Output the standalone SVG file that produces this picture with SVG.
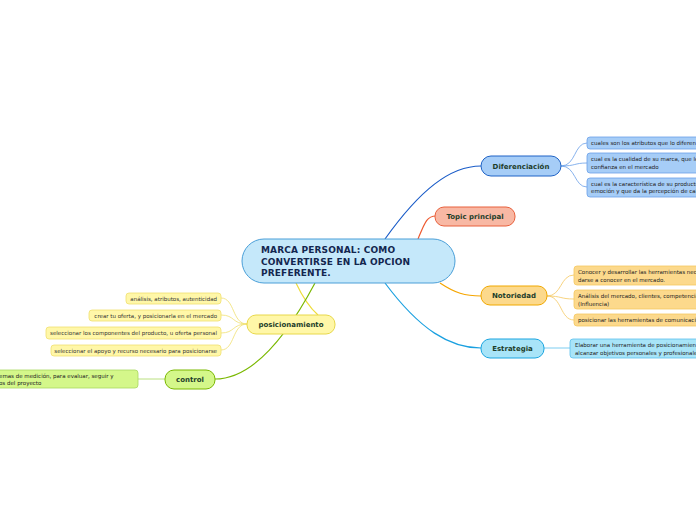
<svg xmlns="http://www.w3.org/2000/svg" width="696" height="520" viewBox="0 0 696 520">
<style>
text{font-family:"DejaVu Sans",Verdana,sans-serif;}
.main{font-size:9px;font-weight:bold;fill:#13264f;letter-spacing:0.15px;}
.topic{font-size:7px;font-weight:bold;fill:#1d3d2a;text-anchor:middle;}
.sub{font-size:5.5px;fill:#222;}
.subr{font-size:5.5px;fill:#333;text-anchor:end;}
.c{fill:none;stroke-width:1.2;}
.cs{fill:none;stroke-width:0.8;}
</style>
<rect width="696" height="520" fill="#ffffff"/>
<g id="connectors">
<path class="c" stroke="#1a5cc8" d="M385,239 C420,190 450,166 481,166"/>
<path class="c" stroke="#ee5a30" d="M418,239 C425,222 427,216 436,216"/>
<path class="c" stroke="#f5a500" d="M440,283 C455,293 465,296 481,296"/>
<path class="c" stroke="#1aa0e0" d="M385,283 C420,330 450,348 481,348"/>
<path class="c" stroke="#eedc3a" d="M296,283 C303,298 310,308 318,315"/>
<path class="c" stroke="#7ab800" d="M315,283 C290,330 255,379 215,379"/>
<path class="cs" stroke="#6aa0e8" d="M561,166 C576,166 574,143 587,143 M561,166 C576,166 574,163 587,163 M561,166 C576,166 574,187 587,187"/>
<path class="cs" stroke="#f5c860" d="M547,296 C562,296 560,275 574,275 M547,296 C562,296 560,299 574,299 M547,296 C562,296 560,320 574,320"/>
<path class="cs" stroke="#5cc0ee" d="M544,348 L570,348"/>
<path class="cs" stroke="#f0e070" d="M247,324 C232,324 235,298 221,298 M247,324 C232,324 235,315 221,315 M247,324 C232,324 235,333 221,333 M247,324 C232,324 235,350 221,350"/>
<path class="cs" stroke="#a8d860" d="M165,379 L138,379"/>
</g>
<g id="central">
<rect x="242" y="239" width="213" height="44" rx="22" fill="#c5e8fa" stroke="#4a9fd8" stroke-width="1"/>
<text class="main" x="261" y="253">MARCA PERSONAL: COMO</text>
<text class="main" x="261" y="264.5">CONVERTIRSE EN LA OPCION</text>
<text class="main" x="261" y="276">PREFERENTE.</text>
</g>
<g id="diferenciacion">
<rect x="481" y="156" width="80" height="20" rx="10" fill="#a6cdf7" stroke="#1f63c6"/>
<text class="topic" x="521" y="168.5">Diferenciación</text>
</g>
<g id="topic-principal">
<rect x="435" y="207" width="80" height="19" rx="9" fill="#f8b8a4" stroke="#e8603c"/>
<text class="topic" x="475" y="219">Topic principal</text>
</g>
<g id="notoriedad">
<rect x="481" y="286" width="66" height="19" rx="9" fill="#fcd98c" stroke="#f0a800"/>
<text class="topic" x="514" y="298">Notoriedad</text>
</g>
<g id="estrategia">
<rect x="481" y="339" width="63" height="19" rx="9" fill="#a8e4f8" stroke="#1aa5e0"/>
<text class="topic" x="512.5" y="351">Estrategia</text>
</g>
<g id="posicionamiento">
<rect x="247" y="315" width="88" height="19" rx="9" fill="#fff7a8" stroke="#e8d84a"/>
<text class="topic" x="291" y="327">posicionamiento</text>
</g>
<g id="control">
<rect x="165" y="370" width="50" height="19" rx="9" fill="#d4f78a" stroke="#7ab800"/>
<text class="topic" x="190" y="382">control</text>
</g>
<g id="dif-1">
<rect x="587" y="137" width="115" height="12" rx="3" fill="#a6cdf7" stroke="#6aa0e8" stroke-width="0.8"/>
<text class="sub" x="591" y="145">cuales son los atributos que lo diferen</text>
</g>
<g id="dif-2">
<rect x="587" y="153" width="115" height="20" rx="3" fill="#a6cdf7" stroke="#6aa0e8" stroke-width="0.8"/>
<text class="sub" x="591" y="161">cual es la cualidad de su marca, que le</text>
<text class="sub" x="591" y="169">confianza en el mercado</text>
</g>
<g id="dif-3">
<rect x="587" y="178" width="115" height="19" rx="3" fill="#a6cdf7" stroke="#6aa0e8" stroke-width="0.8"/>
<text class="sub" x="591" y="186">cual es la característica de su producto</text>
<text class="sub" x="591" y="193">emoción y que da la percepción de cal</text>
</g>
<g id="not-1">
<rect x="574" y="266" width="128" height="19" rx="3" fill="#fcd98c" stroke="#f5c860" stroke-width="0.8"/>
<text class="sub" x="578" y="274">Conocer y desarrollar las herramientas nec</text>
<text class="sub" x="578" y="281.5">darse a conocer en el mercado.</text>
</g>
<g id="not-2">
<rect x="574" y="290" width="128" height="19" rx="3" fill="#fcd98c" stroke="#f5c860" stroke-width="0.8"/>
<text class="sub" x="578" y="298">Análisis del mercado, clientes, competencia</text>
<text class="sub" x="578" y="305.5">(Influencia)</text>
</g>
<g id="not-3">
<rect x="574" y="314" width="128" height="12" rx="3" fill="#fcd98c" stroke="#f5c860" stroke-width="0.8"/>
<text class="sub" x="578" y="322">posicionar las herramientas de comunicació</text>
</g>
<g id="est-1">
<rect x="570" y="339" width="132" height="19" rx="3" fill="#a8e4f8" stroke="#5cc0ee" stroke-width="0.8"/>
<text class="sub" x="575" y="347">Elaborar una herramienta de posicionamien</text>
<text class="sub" x="575" y="354.5">alcanzar objetivos personales y profesionale</text>
</g>
<g id="pos-1">
<rect x="126" y="293" width="95" height="11" rx="3" fill="#fff7a8" stroke="#f0e070" stroke-width="0.8"/>
<text class="subr" x="217" y="300.5">análisis, atributos, autenticidad</text>
</g>
<g id="pos-2">
<rect x="89" y="310" width="132" height="11" rx="3" fill="#fff7a8" stroke="#f0e070" stroke-width="0.8"/>
<text class="subr" x="217" y="317.5">crear tu oferta, y posicionarla en el mercado</text>
</g>
<g id="pos-3">
<rect x="46" y="327" width="175" height="12" rx="3" fill="#fff7a8" stroke="#f0e070" stroke-width="0.8"/>
<text class="subr" x="217" y="335">seleccionar los componentes del producto, u oferta personal</text>
</g>
<g id="pos-4">
<rect x="51" y="345" width="170" height="11" rx="3" fill="#fff7a8" stroke="#f0e070" stroke-width="0.8"/>
<text class="subr" x="217" y="352.5">seleccionar el apoyo y recurso necesario para posicionarse</text>
</g>
<g id="ctrl-1">
<rect x="-10" y="370" width="148" height="18" rx="3" fill="#d4f78a" stroke="#a8d860" stroke-width="0.8"/>
<text class="sub" x="-1" y="377.5">emas de medición, para evaluar, seguir y</text>
<text class="sub" x="-1" y="385">os del proyecto</text>
</g>
</svg>
